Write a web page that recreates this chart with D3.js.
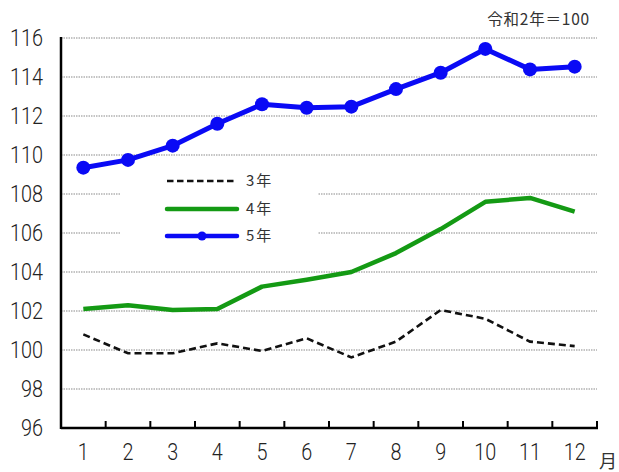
<!DOCTYPE html>
<html><head><meta charset="utf-8">
<script src="https://cdn.jsdelivr.net/npm/d3@7"></script>
<style>
body{margin:0;background:#fff;}
svg{display:block;}
.num{font-family:Roboto,"Liberation Sans",sans-serif;font-weight:300;}
.jp{font-family:"Noto Sans CJK JP","Noto Sans",sans-serif;}
</style></head><body>
<script>
const months = ["1","2","3","4","5","6","7","8","9","10","11","12"];
const yTicks = [96,98,100,102,104,106,108,110,112,114,116];
const r3 = [100.8,99.83,99.83,100.34,99.95,100.6,99.62,100.43,102.05,101.6,100.43,100.2];
const r4 = [102.1,102.3,102.05,102.1,103.25,103.6,104.0,104.97,106.2,107.6,107.8,107.1];
const r5 = [109.35,109.75,110.48,111.6,112.6,112.42,112.48,113.38,114.22,115.44,114.39,114.53];
const seriesNames = ["3年","4年","5年"];
const unitLabel = "令和2年＝100";
const xUnit = "月";

const W=619,H=472;
const svg=d3.select("body").append("svg").attr("width",W).attr("height",H);
const L=61,R=597,T=38,B=428;
const x=d3.scaleBand().domain(months).range([L,R]);
const y=d3.scaleLinear().domain([96,116]).range([B,T]);
const cx=m=>x(m)+x.bandwidth()/2;

// gridlines
const leg={x0:121,x1:318,y0:170,y1:250};
svg.append("g").selectAll("line").data(yTicks.filter(v=>v>96)).join("line")
  .attr("x1",L).attr("x2",R).attr("y1",d=>y(d)).attr("y2",d=>y(d))
  .attr("stroke","#8a8a8a").attr("stroke-width",1.2).attr("stroke-dasharray","1.5,1");

// legend background
svg.append("rect").attr("x",leg.x0).attr("y",leg.y0).attr("width",leg.x1-leg.x0).attr("height",leg.y1-leg.y0).attr("fill","#fff");

// y labels
svg.append("g").selectAll("text").data(yTicks).join("text").attr("class","num")
  .attr("x",43).attr("y",d=>y(d)).attr("dy","0.36em").attr("text-anchor","end")
  .attr("font-size",23).attr("fill","#222")
  .attr("textLength",d=>String(d).length*11).attr("lengthAdjust","spacingAndGlyphs").text(d=>d);

// axes
svg.append("line").attr("x1",L).attr("x2",R+1).attr("y1",B).attr("y2",B).attr("stroke","#000").attr("stroke-width",2.5);
svg.append("line").attr("x1",L).attr("x2",L).attr("y1",T-1).attr("y2",B+1).attr("stroke","#000").attr("stroke-width",2.5);
svg.append("g").selectAll("line").data(months.slice(1).concat(["end"])).join("line")
  .attr("x1",d=>d==="end"?R:x(d)).attr("x2",d=>d==="end"?R:x(d))
  .attr("y1",B).attr("y2",B-7).attr("stroke","#000").attr("stroke-width",2);
svg.append("g").selectAll("text").data(months).join("text").attr("class","num")
  .attr("x",d=>cx(d)).attr("y",452).attr("dy","0.36em").attr("text-anchor","middle")
  .attr("font-size",23).attr("fill","#222")
  .attr("textLength",d=>d.length*11).attr("lengthAdjust","spacingAndGlyphs").text(d=>d);
svg.append("text").attr("class","jp").attr("x",599).attr("y",468).attr("font-size",18).attr("fill","#333").text(xUnit);
svg.append("text").attr("class","jp").attr("x",590).attr("y",25).attr("text-anchor","end").attr("font-size",15.5).attr("letter-spacing","0.8").attr("fill","#333").text(unitLabel);

const line=d3.line().x((d,i)=>cx(months[i])).y(d=>y(d));
svg.append("path").datum(r3).attr("d",line).attr("fill","none").attr("stroke","#111").attr("stroke-width",2.6).attr("stroke-dasharray","7,4");
svg.append("path").datum(r4).attr("d",line).attr("fill","none").attr("stroke","#149a14").attr("stroke-width",4.5).attr("stroke-linejoin","round");
svg.append("path").datum(r5).attr("d",line).attr("fill","none").attr("stroke","#0a0af5").attr("stroke-width",5).attr("stroke-linejoin","round");
svg.append("g").selectAll("circle").data(r5).join("circle").attr("cx",(d,i)=>cx(months[i])).attr("cy",d=>y(d)).attr("r",7).attr("fill","#0a0af5");

// legend
const ly=[181,209,236];
const lg=svg.append("g");
lg.append("line").attr("x1",167).attr("x2",237).attr("y1",ly[0]).attr("y2",ly[0]).attr("stroke","#111").attr("stroke-width",2.6).attr("stroke-dasharray","6.5,3.5");
lg.append("line").attr("x1",167).attr("x2",237).attr("y1",ly[1]).attr("y2",ly[1]).attr("stroke","#149a14").attr("stroke-width",4.5).attr("stroke-linecap","round");
lg.append("line").attr("x1",167).attr("x2",237).attr("y1",ly[2]).attr("y2",ly[2]).attr("stroke","#0a0af5").attr("stroke-width",4.5).attr("stroke-linecap","round");
lg.append("circle").attr("cx",202).attr("cy",ly[2]).attr("r",4.5).attr("fill","#0a0af5");
lg.selectAll("text").data(seriesNames).join("text").attr("class","jp")
  .attr("x",246).attr("y",(d,i)=>ly[i]).attr("dy","0.36em").attr("font-size",15).attr("letter-spacing","2").attr("fill","#333").text(d=>d);
</script>
</body></html>
